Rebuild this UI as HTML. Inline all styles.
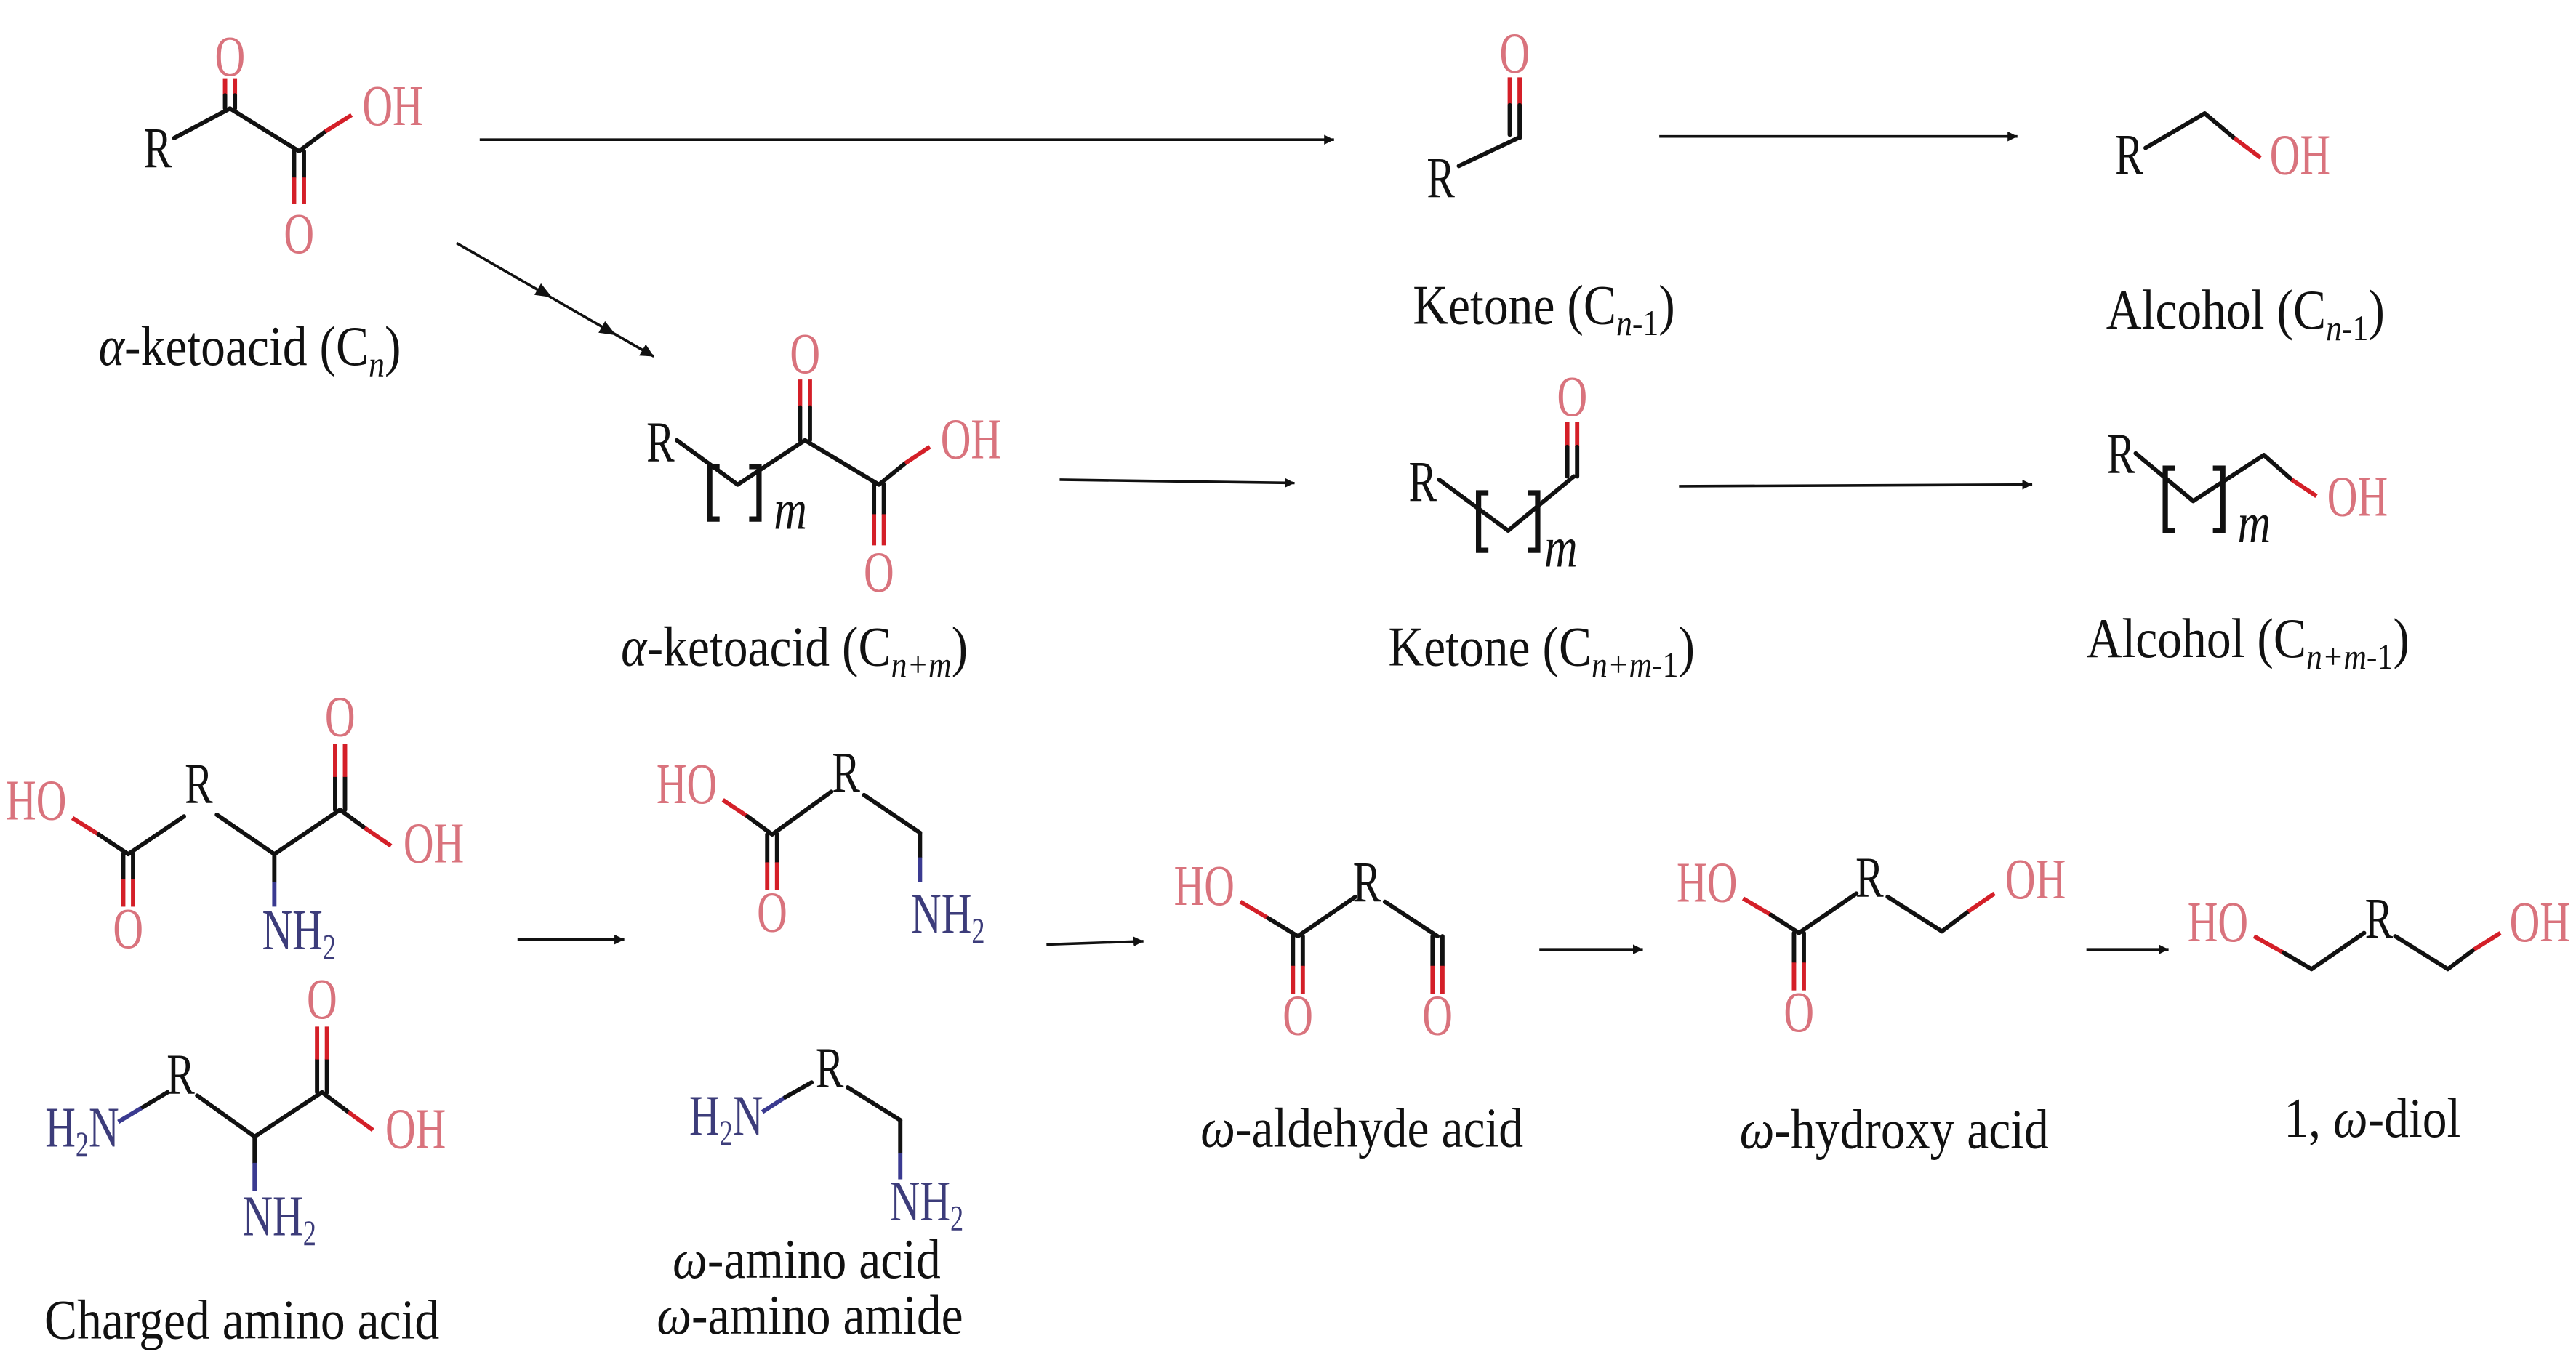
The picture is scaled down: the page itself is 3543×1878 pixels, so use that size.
<!DOCTYPE html>
<html><head><meta charset="utf-8"><style>
html,body{margin:0;padding:0;background:#fff}
svg{display:block}
text{font-family:"Liberation Serif",serif}
.l{font-size:34px;fill:#111}
.a{font-size:35px;fill:#111}
.r{fill:#d9737d}
.b{fill:#3c3c7a}
.k{stroke:#111;stroke-width:2.6;fill:none;stroke-linecap:round}
.kr{stroke:#d41f28;stroke-width:2.6;fill:none}
.kb{stroke:#3a3a90;stroke-width:2.6;fill:none}
.ar{stroke:#111;stroke-width:1.6;fill:none}
.br{stroke:#111;stroke-width:3.2;fill:none}
</style></head><body>
<svg width="3543" height="1878" viewBox="0 0 1568 831" xmlns="http://www.w3.org/2000/svg">
<defs><marker id="h" viewBox="0 0 10 10" refX="10" refY="5" markerWidth="6" markerHeight="6" orient="auto" markerUnits="userSpaceOnUse"><path d="M0,0L10,5L0,10z" fill="#111"/></marker>
<marker id="h2" viewBox="0 0 10 10" refX="10" refY="5" markerWidth="8" markerHeight="8" orient="auto" markerUnits="userSpaceOnUse"><path d="M0,0L10,5L0,10z" fill="#111"/></marker></defs>

<text class="a r" transform="translate(140,46) scale(.73,1)" text-anchor="middle">O</text>
<line class="kr" x1="137" y1="48" x2="137" y2="58"/><line class="kr" x1="143" y1="48" x2="143" y2="58"/>
<line class="k" x1="137" y1="58" x2="137" y2="66"/><line class="k" x1="143" y1="58" x2="143" y2="66"/>
<text class="a" transform="translate(96,102) scale(.73,1)" text-anchor="middle">R</text>
<line class="k" x1="106" y1="84" x2="140" y2="66"/>
<line class="k" x1="140" y1="66" x2="182" y2="92"/>
<line class="k" x1="182" y1="92" x2="198" y2="80"/><line class="kr" x1="198" y1="80" x2="214" y2="70"/>
<text class="a r" transform="translate(239,76) scale(.73,1)" text-anchor="middle">OH</text>
<line class="k" x1="179" y1="92" x2="179" y2="108"/><line class="k" x1="185" y1="92" x2="185" y2="108"/>
<line class="kr" x1="179" y1="108" x2="179" y2="124"/><line class="kr" x1="185" y1="108" x2="185" y2="124"/>
<text class="a r" transform="translate(182,154) scale(.73,1)" text-anchor="middle">O</text>
<text class="l" transform="translate(60,222) scale(.88,1)"><tspan font-style="italic">α</tspan>-ketoacid (C<tspan font-size="22" font-style="italic" dy="7">n</tspan><tspan dy="-7">)</tspan></text>

<line class="ar" x1="292" y1="85" x2="812" y2="85" marker-end="url(#h)"/>
<line class="ar" x1="278" y1="148" x2="398" y2="217" marker-end="url(#h2)"/>
<path d="M336,181L325.3,179.5L329.3,172.5z" fill="#111"/>
<path d="M375,204L364.3,202.5L368.3,195.5z" fill="#111"/>

<text class="a r" transform="translate(922,44) scale(.73,1)" text-anchor="middle">O</text>
<line class="kr" x1="919" y1="47" x2="919" y2="64"/><line class="kr" x1="925" y1="47" x2="925" y2="64"/>
<line class="k" x1="919" y1="64" x2="919" y2="82"/><line class="k" x1="925" y1="64" x2="925" y2="84"/>
<line class="k" x1="888" y1="101" x2="924" y2="84"/>
<text class="a" transform="translate(877,120) scale(.73,1)" text-anchor="middle">R</text>
<text class="l" transform="translate(860,197) scale(.88,1)">Ketone (C<tspan font-size="22" dy="7"><tspan font-style="italic">n</tspan>-1</tspan><tspan dy="-7">)</tspan></text>

<line class="ar" x1="1010" y1="83" x2="1228" y2="83" marker-end="url(#h)"/>

<text class="a" transform="translate(1296,106) scale(.73,1)" text-anchor="middle">R</text>
<line class="k" x1="1306" y1="90" x2="1342" y2="69"/>
<line class="k" x1="1342" y1="69" x2="1360" y2="84"/><line class="kr" x1="1360" y1="84" x2="1376" y2="96"/>
<text class="a r" transform="translate(1400,106) scale(.73,1)" text-anchor="middle">OH</text>
<text class="l" transform="translate(1282,200) scale(.88,1)">Alcohol (C<tspan font-size="22" dy="7"><tspan font-style="italic">n</tspan>-1</tspan><tspan dy="-7">)</tspan></text>

<text class="a" transform="translate(402,281) scale(.73,1)" text-anchor="middle">R</text>
<line class="k" x1="412" y1="268" x2="449" y2="295"/>
<line class="k" x1="449" y1="295" x2="490" y2="268"/>
<path class="br" d="M438,284H432V316H438 M456,284H462V316H456"/>
<text class="a" font-style="italic" font-size="24" transform="translate(471,322) scale(.8,1)">m</text>
<text class="a r" transform="translate(490,227) scale(.73,1)" text-anchor="middle">O</text>
<line class="kr" x1="487" y1="231" x2="487" y2="248"/><line class="kr" x1="493" y1="231" x2="493" y2="248"/>
<line class="k" x1="487" y1="248" x2="487" y2="268"/><line class="k" x1="493" y1="248" x2="493" y2="268"/>
<line class="k" x1="490" y1="268" x2="535" y2="295"/>
<line class="k" x1="535" y1="295" x2="551" y2="282"/><line class="kr" x1="551" y1="282" x2="566" y2="272"/>
<text class="a r" transform="translate(591,279) scale(.73,1)" text-anchor="middle">OH</text>
<line class="k" x1="532" y1="295" x2="532" y2="313"/><line class="k" x1="538" y1="295" x2="538" y2="313"/>
<line class="kr" x1="532" y1="313" x2="532" y2="332"/><line class="kr" x1="538" y1="313" x2="538" y2="332"/>
<text class="a r" transform="translate(535,360) scale(.73,1)" text-anchor="middle">O</text>
<text class="l" transform="translate(378,405) scale(.88,1)"><tspan font-style="italic">α</tspan>-ketoacid (C<tspan font-size="22" font-style="italic" dy="7">n+m</tspan><tspan dy="-7">)</tspan></text>

<line class="ar" x1="645" y1="292" x2="788" y2="294" marker-end="url(#h)"/>

<text class="a r" transform="translate(957,253) scale(.73,1)" text-anchor="middle">O</text>
<line class="kr" x1="954" y1="257" x2="954" y2="272"/><line class="kr" x1="960" y1="257" x2="960" y2="272"/>
<line class="k" x1="954" y1="272" x2="954" y2="290"/><line class="k" x1="960" y1="272" x2="960" y2="290"/>
<text class="a" transform="translate(866,305) scale(.73,1)" text-anchor="middle">R</text>
<line class="k" x1="876" y1="292" x2="918" y2="323"/>
<line class="k" x1="918" y1="323" x2="958" y2="290"/>
<path class="br" d="M906,300H900V335H906 M930,300H936V335H930"/>
<text class="a" font-style="italic" font-size="24" transform="translate(940,345) scale(.8,1)">m</text>
<text class="l" transform="translate(845,405) scale(.88,1)">Ketone (C<tspan font-size="22" dy="7"><tspan font-style="italic">n+m</tspan>-1</tspan><tspan dy="-7">)</tspan></text>

<line class="ar" x1="1022" y1="296" x2="1237" y2="295" marker-end="url(#h)"/>

<text class="a" transform="translate(1291,288) scale(.73,1)" text-anchor="middle">R</text>
<line class="k" x1="1300" y1="276" x2="1335" y2="305"/>
<line class="k" x1="1335" y1="305" x2="1378" y2="277"/>
<line class="k" x1="1378" y1="277" x2="1395" y2="292"/><line class="kr" x1="1395" y1="292" x2="1410" y2="302"/>
<path class="br" d="M1324,285H1318V323H1324 M1347,285H1353V323H1347"/>
<text class="a" font-style="italic" font-size="24" transform="translate(1362,330) scale(.8,1)">m</text>
<text class="a r" transform="translate(1435,314) scale(.73,1)" text-anchor="middle">OH</text>
<text class="l" transform="translate(1270,400) scale(.88,1)">Alcohol (C<tspan font-size="22" dy="7"><tspan font-style="italic">n+m</tspan>-1</tspan><tspan dy="-7">)</tspan></text>

<text class="a r" transform="translate(22,499) scale(.73,1)" text-anchor="middle">HO</text>
<line class="kr" x1="44" y1="498" x2="60" y2="508"/><line class="k" x1="60" y1="508" x2="78" y2="520"/>
<line class="k" x1="75" y1="520" x2="75" y2="535"/><line class="k" x1="81" y1="520" x2="81" y2="535"/>
<line class="kr" x1="75" y1="535" x2="75" y2="552"/><line class="kr" x1="81" y1="535" x2="81" y2="552"/>
<text class="a r" transform="translate(78,577) scale(.73,1)" text-anchor="middle">O</text>
<line class="k" x1="78" y1="520" x2="112" y2="497"/>
<text class="a" transform="translate(121,489) scale(.73,1)" text-anchor="middle">R</text>
<line class="k" x1="132" y1="496" x2="167" y2="520"/>
<line class="k" x1="167" y1="520" x2="167" y2="537"/><line class="kb" x1="167" y1="537" x2="167" y2="552"/>
<text class="a b" transform="translate(182,578) scale(.73,1)" text-anchor="middle">NH<tspan font-size="22" dy="6">2</tspan></text>
<line class="k" x1="167" y1="520" x2="207" y2="493"/>
<line class="k" x1="204" y1="493" x2="204" y2="473"/><line class="k" x1="210" y1="493" x2="210" y2="473"/>
<line class="kr" x1="204" y1="473" x2="204" y2="453"/><line class="kr" x1="210" y1="473" x2="210" y2="453"/>
<text class="a r" transform="translate(207,448) scale(.73,1)" text-anchor="middle">O</text>
<line class="k" x1="207" y1="493" x2="222" y2="504"/><line class="kr" x1="222" y1="504" x2="238" y2="515"/>
<text class="a r" transform="translate(264,525) scale(.73,1)" text-anchor="middle">OH</text>

<text class="a b" transform="translate(50,698) scale(.73,1)" text-anchor="middle">H<tspan font-size="22" dy="6">2</tspan><tspan dy="-6">N</tspan></text>
<line class="kb" x1="72" y1="683" x2="87" y2="674"/><line class="k" x1="87" y1="674" x2="102" y2="665"/>
<text class="a" transform="translate(110,666) scale(.73,1)" text-anchor="middle">R</text>
<line class="k" x1="120" y1="667" x2="155" y2="692"/>
<line class="k" x1="155" y1="692" x2="155" y2="708"/><line class="kb" x1="155" y1="708" x2="155" y2="725"/>
<text class="a b" transform="translate(170,752) scale(.73,1)" text-anchor="middle">NH<tspan font-size="22" dy="6">2</tspan></text>
<line class="k" x1="155" y1="692" x2="196" y2="665"/>
<line class="k" x1="193" y1="665" x2="193" y2="645"/><line class="k" x1="199" y1="665" x2="199" y2="645"/>
<line class="kr" x1="193" y1="645" x2="193" y2="625"/><line class="kr" x1="199" y1="645" x2="199" y2="625"/>
<text class="a r" transform="translate(196,620) scale(.73,1)" text-anchor="middle">O</text>
<line class="k" x1="196" y1="665" x2="212" y2="677"/><line class="kr" x1="212" y1="677" x2="227" y2="688"/>
<text class="a r" transform="translate(253,699) scale(.73,1)" text-anchor="middle">OH</text>
<text class="l" transform="translate(27,815) scale(.88,1)">Charged amino acid</text>

<line class="ar" x1="315" y1="572" x2="380" y2="572" marker-end="url(#h)"/>

<text class="a r" transform="translate(418,489) scale(.73,1)" text-anchor="middle">HO</text>
<line class="kr" x1="440" y1="487" x2="455" y2="497"/><line class="k" x1="455" y1="497" x2="470" y2="508"/>
<line class="k" x1="467" y1="508" x2="467" y2="525"/><line class="k" x1="473" y1="508" x2="473" y2="525"/>
<line class="kr" x1="467" y1="525" x2="467" y2="542"/><line class="kr" x1="473" y1="525" x2="473" y2="542"/>
<text class="a r" transform="translate(470,567) scale(.73,1)" text-anchor="middle">O</text>
<line class="k" x1="470" y1="508" x2="506" y2="482"/>
<text class="a" transform="translate(515,482) scale(.73,1)" text-anchor="middle">R</text>
<line class="k" x1="526" y1="484" x2="560" y2="507"/>
<line class="k" x1="560" y1="507" x2="560" y2="522"/><line class="kb" x1="560" y1="522" x2="560" y2="537"/>
<text class="a b" transform="translate(577,568) scale(.73,1)" text-anchor="middle">NH<tspan font-size="22" dy="6">2</tspan></text>

<text class="a b" transform="translate(442,691) scale(.73,1)" text-anchor="middle">H<tspan font-size="22" dy="6">2</tspan><tspan dy="-6">N</tspan></text>
<line class="kb" x1="464" y1="677" x2="478" y2="668"/><line class="k" x1="478" y1="668" x2="494" y2="659"/>
<text class="a" transform="translate(505,662) scale(.73,1)" text-anchor="middle">R</text>
<line class="k" x1="516" y1="662" x2="548" y2="682"/>
<line class="k" x1="548" y1="682" x2="548" y2="702"/><line class="kb" x1="548" y1="702" x2="548" y2="718"/>
<text class="a b" transform="translate(564,743) scale(.73,1)" text-anchor="middle">NH<tspan font-size="22" dy="6">2</tspan></text>
<text class="l" transform="translate(491,778) scale(.88,1)" text-anchor="middle"><tspan font-style="italic">ω</tspan>-amino acid</text>
<text class="l" transform="translate(493,812) scale(.88,1)" text-anchor="middle"><tspan font-style="italic">ω</tspan>-amino amide</text>

<line class="ar" x1="637" y1="575" x2="696" y2="573" marker-end="url(#h)"/>

<text class="a r" transform="translate(733,551) scale(.73,1)" text-anchor="middle">HO</text>
<line class="kr" x1="755" y1="549" x2="772" y2="559"/><line class="k" x1="772" y1="559" x2="790" y2="570"/>
<line class="k" x1="787" y1="570" x2="787" y2="588"/><line class="k" x1="793" y1="570" x2="793" y2="588"/>
<line class="kr" x1="787" y1="588" x2="787" y2="605"/><line class="kr" x1="793" y1="588" x2="793" y2="605"/>
<text class="a r" transform="translate(790,630) scale(.73,1)" text-anchor="middle">O</text>
<line class="k" x1="790" y1="570" x2="825" y2="546"/>
<text class="a" transform="translate(832,549) scale(.73,1)" text-anchor="middle">R</text>
<line class="k" x1="843" y1="549" x2="875" y2="570"/>
<line class="k" x1="872" y1="570" x2="872" y2="588"/><line class="k" x1="878" y1="570" x2="878" y2="588"/>
<line class="kr" x1="872" y1="588" x2="872" y2="605"/><line class="kr" x1="878" y1="588" x2="878" y2="605"/>
<text class="a r" transform="translate(875,630) scale(.73,1)" text-anchor="middle">O</text>
<text class="l" transform="translate(829,698) scale(.88,1)" text-anchor="middle"><tspan font-style="italic">ω</tspan>-aldehyde acid</text>

<line class="ar" x1="937" y1="578" x2="1000" y2="578" marker-end="url(#h)"/>

<text class="a r" transform="translate(1039,549) scale(.73,1)" text-anchor="middle">HO</text>
<line class="kr" x1="1061" y1="547" x2="1078" y2="557"/><line class="k" x1="1078" y1="557" x2="1095" y2="568"/>
<line class="k" x1="1092" y1="568" x2="1092" y2="586"/><line class="k" x1="1098" y1="568" x2="1098" y2="586"/>
<line class="kr" x1="1092" y1="586" x2="1092" y2="603"/><line class="kr" x1="1098" y1="586" x2="1098" y2="603"/>
<text class="a r" transform="translate(1095,628) scale(.73,1)" text-anchor="middle">O</text>
<line class="k" x1="1095" y1="568" x2="1130" y2="544"/>
<text class="a" transform="translate(1138,546) scale(.73,1)" text-anchor="middle">R</text>
<line class="k" x1="1149" y1="546" x2="1182" y2="567"/>
<line class="k" x1="1182" y1="567" x2="1198" y2="555"/><line class="kr" x1="1198" y1="555" x2="1214" y2="544"/>
<text class="a r" transform="translate(1239,547) scale(.73,1)" text-anchor="middle">OH</text>
<text class="l" transform="translate(1153,699) scale(.88,1)" text-anchor="middle"><tspan font-style="italic">ω</tspan>-hydroxy acid</text>

<line class="ar" x1="1270" y1="578" x2="1320" y2="578" marker-end="url(#h)"/>

<text class="a r" transform="translate(1350,573) scale(.73,1)" text-anchor="middle">HO</text>
<line class="kr" x1="1372" y1="570" x2="1390" y2="580"/><line class="k" x1="1390" y1="580" x2="1407" y2="590"/>
<line class="k" x1="1407" y1="590" x2="1439" y2="568"/>
<text class="a" transform="translate(1448,571) scale(.73,1)" text-anchor="middle">R</text>
<line class="k" x1="1458" y1="570" x2="1490" y2="590"/>
<line class="k" x1="1490" y1="590" x2="1506" y2="578"/><line class="kr" x1="1506" y1="578" x2="1522" y2="568"/>
<text class="a r" transform="translate(1546,573) scale(.73,1)" text-anchor="middle">OH</text>
<text class="l" transform="translate(1444,692) scale(.88,1)" text-anchor="middle">1, <tspan font-style="italic">ω</tspan>-diol</text>
</svg>
</body></html>
